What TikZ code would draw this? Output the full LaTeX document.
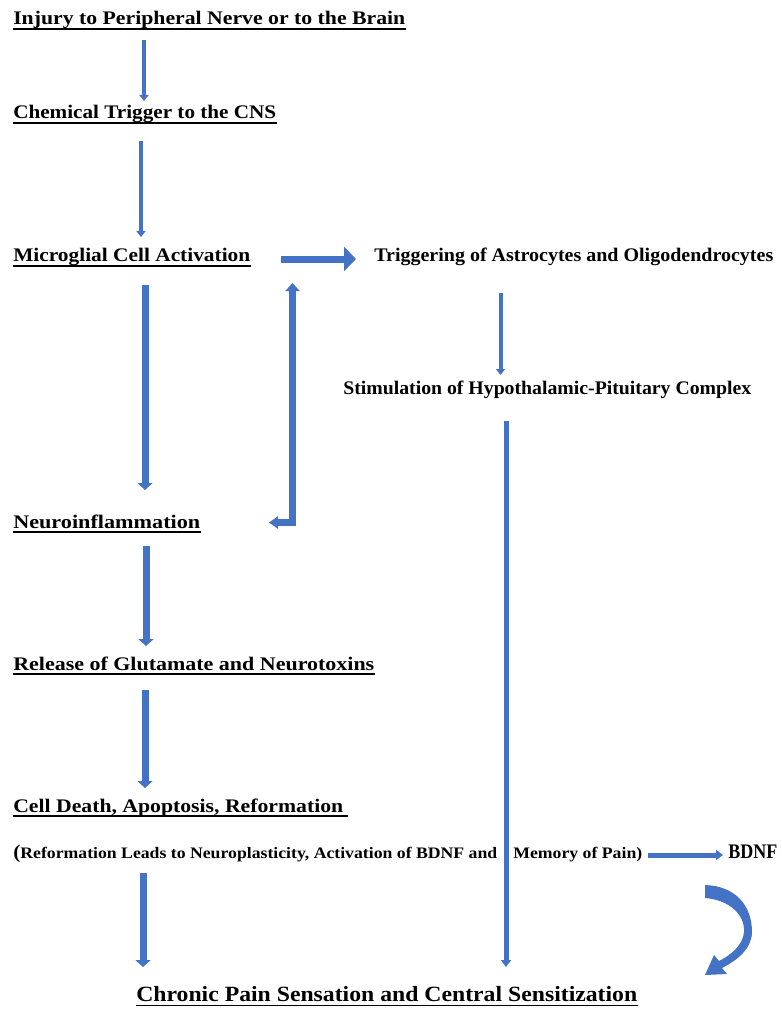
\documentclass[tikz,border=0pt]{standalone}
\usepackage{fontspec}
\setmainfont{Liberation Serif}
\usetikzlibrary{arrows.meta,calc}
\newlength\px \setlength\px{0.75pt}
\newcommand\fitw[2]{\resizebox{#1\px}{\height}{#2}}
\definecolor{wblue}{HTML}{4472C4}
\tikzset{
 lbl/.style={inner sep=0pt, anchor=base west, font=\bfseries\fontsize{14.4}{17}\selectfont},
 lblsmall/.style={inner sep=0pt, anchor=base west, font=\bfseries\fontsize{12}{14}\selectfont},
 lblbdnf/.style={inner sep=0pt, anchor=base west, font=\bfseries\fontsize{15.5}{18}\selectfont},
 lblbig/.style={inner sep=0pt, anchor=base west, font=\bfseries\fontsize{16.3}{19}\selectfont},
 ulline/.style={line width=1.1pt, black},
 thinarr/.style={wblue, line width=3pt, -{Triangle[width=6.75pt,length=4.5pt]}},
 midarr/.style={wblue, line width=3.75pt, -{Triangle[width=7.5pt,length=5.25pt]}},
 thickarr/.style={wblue, line width=5.25pt, -{Triangle[width=11.25pt,length=5.25pt]}},
 bigarr/.style={wblue, line width=5.25pt, -{Triangle[width=18pt,length=9pt]}},
 elbowarr/.style={wblue, line width=5.25pt, line join=miter, {Triangle[width=9pt,length=6.75pt]}-{Triangle[width=10.5pt,length=6pt]}},
}
\begin{document}
\begin{tikzpicture}[x=0.75pt,y=-0.75pt]
\useasboundingbox (0,0) rectangle (781,1009);
% texts
\node[lbl] (t1) at (13,25) {\fitw{392}{Injury to Peripheral Nerve or to the Brain}};
\node[lbl] (t2) at (13,119) {\fitw{263}{Chemical Trigger to the CNS}};
\node[lbl] (t3) at (13,262) {\fitw{237}{Microglial Cell Activation}};
\node[lbl] (t4) at (374,262) {\fitw{399}{Triggering of Astrocytes and Oligodendrocytes}};
\node[lbl] (t5) at (343,394) {\fitw{408}{Stimulation of Hypothalamic-Pituitary Complex}};
\node[lbl] (t6) at (13,528) {\fitw{187}{Neuroinflammation}};
\node[lbl] (t7) at (13,670) {\fitw{361}{Release of Glutamate and Neurotoxins}};
\node[lbl] (t8) at (13,812) {\fitw{330}{Cell Death, Apoptosis, Reformation}};
\node[lblsmall] (t9a) at (13,858) {\fitw{484}{{\fontsize{14.5}{16}\selectfont(}Reformation Leads to Neuroplasticity, Activation of BDNF and}};
\node[lblsmall] (t9b) at (513,858) {\fitw{129}{Memory of Pain)}};
\node[lblbdnf] (bdnf) at (728,858) {\fitw{49}{BDNF}};
\node[lblbig] (t10) at (136,1001) {\fitw{501}{Chronic Pain Sensation and Central Sensitization}};
% underlines
\foreach \n in {t1,t2,t3,t6,t7}{
  \draw[ulline] ($(\n.base west)+(0,4)$) -- ($(\n.base east)+(0,4)$);
}
\draw[ulline] ($(t8.base west)+(0,4)$) -- ($(t8.base east)+(4,4)$);
\draw[ulline] ($(t10.base west)+(0,4.5)$) -- ($(t10.base east)+(0,4.5)$);
% arrow end coordinates
\coordinate (a1s) at (144,40);   \coordinate (a1e) at (144,101);
\coordinate (a2s) at (141,141);  \coordinate (a2e) at (141,237);
\coordinate (a3s) at (281,259);  \coordinate (a3e) at (356,259);
\coordinate (a4s) at (500.5,293);\coordinate (a4e) at (500.5,375);
\coordinate (a5s) at (506,421);  \coordinate (a5e) at (506,967);
\coordinate (a6s) at (145,285);  \coordinate (a6e) at (145,490);
\coordinate (elA) at (269,522.5);\coordinate (elB) at (292.5,283);
\coordinate (a7s) at (146,546);  \coordinate (a7e) at (146,646);
\coordinate (a8s) at (145,690);  \coordinate (a8e) at (145,788);
\coordinate (a9s) at (143,873);  \coordinate (a9e) at (143,967);
\coordinate (a10s) at (648,855); \coordinate (a10e) at (723,855);
% arrows
\draw[thinarr] (a1s) -- (a1e);
\draw[thinarr] (a2s) -- (a2e);
\draw[bigarr] (a3s) -- (a3e);
\draw[thinarr] (a4s) -- (a4e);
\draw[midarr] (a5s) -- (a5e);
\draw[thickarr] (a6s) -- (a6e);
\draw[elbowarr] (elA) -| (elB);
\draw[thickarr] (a7s) -- (a7e);
\draw[thickarr] (a8s) -- (a8e);
\draw[thickarr] (a9s) -- (a9e);
\draw[midarr] (a10s) -- (a10e);
% curved arrow
\fill[wblue] (705,885) -- (705,898) .. controls (730,900) and (745,915) .. (744,932)
  .. controls (743,945) and (731,955) .. (719,961) -- (714,955) -- (705,975) -- (727,974) -- (722,968)
  .. controls (738,960) and (752,948) .. (752,932)
  .. controls (752,905) and (735,886) .. (705,885) -- cycle;
\end{tikzpicture}
\end{document}
